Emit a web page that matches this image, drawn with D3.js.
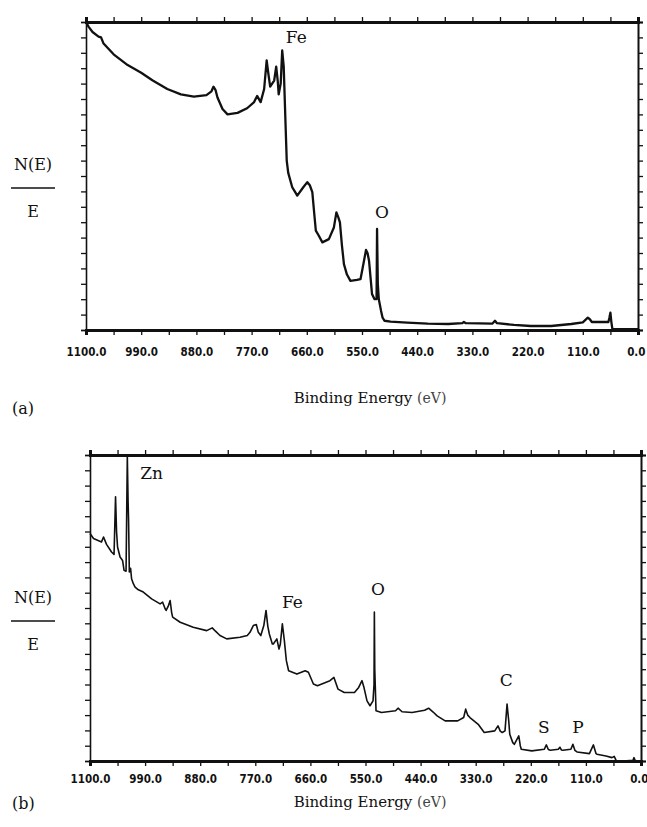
<!DOCTYPE html>
<html>
<head>
<meta charset="utf-8">
<script src="https://cdn.jsdelivr.net/npm/d3@7/dist/d3.min.js"></script>
<style>
  body { margin: 0; background: #fff; }
  svg { display: block; }
  .tick-lbl text { font-family: "DejaVu Sans", sans-serif; font-stretch: condensed; font-weight: bold; font-size: 11.5px; fill: #111; }
  .serif { font-family: "DejaVu Serif", serif; fill: #111; }
</style>
</head>
<body>
<svg id="chart" width="647" height="827"></svg>
<script>
// survey spectrum of the bare steel (a)
const energyA = [1100, 1095, 1087, 1075, 1070, 1065, 1045, 1017, 990, 967, 938, 911, 885, 860, 850, 846, 842, 838,
  828, 818, 798, 779, 765, 759, 752, 745, 740, 736, 733, 725, 721, 718, 716, 712, 709, 706, 702, 700, 697, 689, 684,
  679, 667, 659, 654, 649, 645, 642, 636, 629, 616, 606, 601, 597, 594, 590, 586, 580, 573, 560, 553, 546, 542, 539,
  536, 530, 525, 521, 520, 518.5, 516.5, 512, 509, 505, 493, 460, 419, 378, 350, 347, 343, 290, 285, 281, 247, 214,
  173, 133, 110, 100, 96, 92, 59, 57, 55, 53, 51, 30, 0];
const countsA = [20, 19.7, 19.35, 19.05, 19.0, 18.6, 17.9, 17.2, 16.7, 16.2, 15.65, 15.3, 15.15, 15.25, 15.5, 15.8, 15.6, 15.1,
  14.35, 14.0, 14.1, 14.4, 14.8, 15.2, 14.8, 15.65, 17.5, 16.5, 15.8, 16.2, 17.1, 16.2, 15.3, 16.0, 18.15, 17.1, 13.0, 11.0, 10.2, 9.27, 9.0,
  8.73, 9.27, 9.6, 9.4, 8.95, 7.5, 6.45, 6.12, 5.69, 5.9, 6.66, 7.64, 7.3, 6.99, 5.5, 4.28, 3.6, 3.19, 3.25, 3.3, 4.5, 5.2, 5.0,
  4.5, 2.33, 2.0, 2.0, 6.56, 3.0, 2.0, 1.24, 0.8, 0.6, 0.54, 0.48, 0.41, 0.39, 0.45, 0.52, 0.44, 0.42, 0.6, 0.44, 0.33, 0.26,
  0.26, 0.39, 0.5, 0.8, 0.7, 0.52, 0.52, 0.8, 1.13, 0.5, 0.05, 0.05, 0.05];

// survey spectrum after treatment (b)
const energyB = [1100, 1093, 1077, 1073, 1067, 1057, 1052, 1049, 1047, 1045, 1040, 1035, 1032, 1028, 1025.5, 1024, 1023,
  1022, 1021.5, 1019, 1017, 1013.5, 1010, 1003.5, 993.6, 977, 960, 955, 950, 948, 944, 940, 937, 935, 920, 894, 867,
  856, 850, 840.5, 827, 800.5, 786, 780.6, 774, 768, 764, 759, 753, 748.6, 745, 742, 736, 734, 727, 722.7, 720, 716,
  712, 708, 703.5, 687, 670.5, 664, 654, 646, 621, 613, 605, 592.4, 572, 563.6, 557, 553, 547, 541, 535, 533, 532.3,
  531.5, 529, 518, 490, 485, 477, 457, 432, 424, 415, 407, 391, 366, 354, 350, 346, 341.5, 325, 313, 292, 285.5, 281,
  277, 271.5, 267.4, 264, 262, 256, 253, 244, 241, 239, 218, 193, 189, 185, 181, 165, 162, 159, 156, 140, 136, 132,
  127.6, 103, 95, 90, 88, 70, 58, 53.5, 49.5, 29, 16, 14, 12, 8, 0];
const countsB = [14.87, 14.54, 14.32, 14.64, 14.16, 13.66, 13.5, 17.27, 15.0, 13.99, 13.33, 13.11, 12.46, 12.4, 19.9, 17.0, 15.74,
  13.5, 12.35, 12.6, 11.91, 11.59, 11.37, 11.19, 11.04, 10.6, 10.27, 10.38, 9.95, 9.84, 10.1, 10.49, 9.7, 9.4, 9.07, 8.74, 8.52,
  8.7, 8.5, 8.2, 7.98, 8.09, 8.2, 8.41, 8.85, 8.92, 8.41, 8.2, 8.85, 9.84, 8.8, 8.3, 7.65, 7.65, 7.98, 7.32, 7.65, 8.96,
  7.87, 6.56, 5.9, 5.68, 5.9, 5.8, 5.03, 4.92, 5.25, 5.46, 4.7, 4.48, 4.48, 4.81, 5.25, 4.8, 3.93, 3.61, 3.93, 5.0, 9.73,
  6.0, 3.28, 3.17, 3.28, 3.45, 3.22, 3.17, 3.32, 3.45, 3.2, 2.95, 2.62, 2.62, 2.84, 3.39, 3.0, 2.84, 2.4, 1.86, 1.97, 2.3, 1.95,
  1.86, 1.97, 3.72, 2.6, 1.75, 1.2, 1.09, 1.64, 1.0, 0.77, 0.66, 0.77, 1.05, 0.75, 0.7, 0.77, 0.9, 0.72, 0.7, 0.77, 1.09, 0.7,
  0.59, 0.48, 1.05, 0.5, 0.44, 0.33, 0.22, 0.3, 0.02, 0.02, 0.05, 0.22, 0.05, 0, 0];

// x ticks every 55 eV, labels every 110 eV
const xTicks = d3.range(0, 1101, 55);
const xLabels = ["1100.0", "990.0", "880.0", "770.0", "660.0", "550.0", "440.0", "330.0", "220.0", "110.0", "0.0"];
const yTicks = d3.range(0, 21);

// peak labels: element, energy (eV) and level of the text baseline
const peakTextA = ["Fe", "O"];
const peakEnergyA = [681, 510];
const peakLevelA = [18.64, 7.27];
const peakTextB = ["Zn", "Fe", "O", "C", "S", "P"];
const peakEnergyB = [977, 696, 525, 269, 194, 126];
const peakLevelB = [18.43, 10.0, 10.85, 4.9, 1.83, 1.83];

const svg = d3.select("#chart");

function drawPanel(opt) {
  const x = d3.scaleLinear().domain([1100, 0]).range([opt.left, opt.right]);
  const y = d3.scaleLinear().domain([0, 20]).range([opt.bottom, opt.top]);
  const g = svg.append("g");

  // frame: labelled bottom axis, plain ticks on the other three sides
  const labelOf = v => (v % 110 === 0 ? xLabels[(1100 - v) / 110] : "");
  const bottom = g.append("g").attr("class", "tick-lbl")
    .attr("transform", `translate(0,${opt.bottom})`)
    .call(d3.axisBottom(x).tickValues(xTicks).tickSize(5).tickPadding(opt.labelPad).tickFormat(labelOf));
  const top = g.append("g").attr("transform", `translate(0,${opt.top})`)
    .call(d3.axisTop(x).tickValues(xTicks).tickSize(5).tickFormat(""));
  const left = g.append("g").attr("transform", `translate(${opt.left},0)`)
    .call(d3.axisLeft(y).tickValues(yTicks).tickSize(5).tickFormat(""));
  const right = g.append("g").attr("transform", `translate(${opt.right},0)`)
    .call(d3.axisRight(y).tickValues(yTicks).tickSize(5).tickFormat(""));

  // keep the last label inside the page
  bottom.selectAll(".tick text").filter(d => d === 0)
    .attr("text-anchor", "end").attr("dx", 7);

  g.selectAll(".domain").attr("stroke", "#111");
  g.selectAll(".tick line").attr("stroke", "#111").attr("stroke-width", 1.3);
  bottom.select(".domain").attr("stroke-width", 3);
  top.select(".domain").attr("stroke-width", 3);
  left.select(".domain").attr("stroke-width", 1.6);
  right.select(".domain").attr("stroke-width", 2);

  // spectrum
  const pts = opt.energy.map((e, i) => [e, opt.counts[i]]);
  g.append("path")
    .datum(pts)
    .attr("fill", "none")
    .attr("stroke", "#111")
    .attr("stroke-width", opt.lineWidth)
    .attr("stroke-linejoin", "round")
    .attr("d", d3.line().x(d => x(d[0])).y(d => y(d[1])));

  // element labels
  opt.peakText.forEach((t, i) => {
    g.append("text").attr("class", "serif")
      .attr("x", x(opt.peakEnergy[i]))
      .attr("y", y(opt.peakLevel[i]))
      .attr("text-anchor", "middle")
      .attr("font-size", 17)
      .text(t);
  });

  // N(E)/E ordinate label
  const mid = opt.top + 166;
  g.append("text").attr("class", "serif").attr("x", 33).attr("y", mid - 18)
    .attr("text-anchor", "middle").attr("font-size", 16).text("N(E)");
  g.append("line").attr("x1", 11).attr("x2", 55).attr("y1", mid).attr("y2", mid)
    .attr("stroke", "#111").attr("stroke-width", 1.6);
  g.append("text").attr("class", "serif").attr("x", 33).attr("y", mid + 29)
    .attr("text-anchor", "middle").attr("font-size", 16).text("E");

  // abscissa title and panel letter
  const title = g.append("text").attr("class", "serif")
    .attr("x", 370).attr("y", opt.titleY)
    .attr("text-anchor", "middle").attr("font-size", 15);
  title.append("tspan").text("Binding Energy ");
  title.append("tspan").attr("fill", "#444").attr("font-size", 14).text("(eV)");
  g.append("text").attr("class", "serif")
    .attr("x", 12).attr("y", opt.letterY)
    .attr("font-size", 16).text(opt.letter);
}

drawPanel({
  left: 86, right: 638, top: 22, bottom: 330,
  energy: energyA, counts: countsA, lineWidth: 2.3, labelPad: 13,
  peakText: peakTextA, peakEnergy: peakEnergyA, peakLevel: peakLevelA,
  titleY: 403, letterY: 414, letter: "(a)"
});

drawPanel({
  left: 90, right: 641, top: 455, bottom: 761,
  energy: energyB, counts: countsB, lineWidth: 1.6, labelPad: 9,
  peakText: peakTextB, peakEnergy: peakEnergyB, peakLevel: peakLevelB,
  titleY: 807, letterY: 809, letter: "(b)"
});
</script>
</body>
</html>
